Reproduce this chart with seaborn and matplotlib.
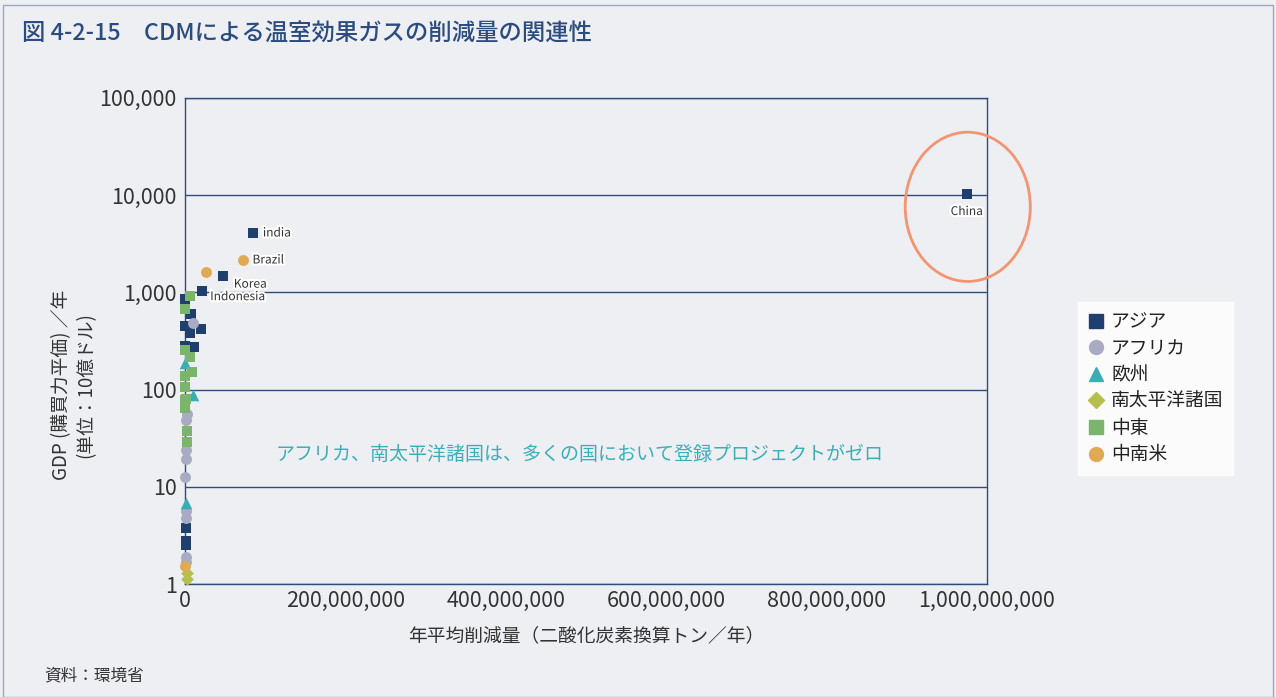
import matplotlib
matplotlib.use("Agg")
import matplotlib.pyplot as plt
import matplotlib.patheffects as pe
from matplotlib.patches import Ellipse, Rectangle
from matplotlib.lines import Line2D
from matplotlib.ticker import FixedLocator, FuncFormatter
import pandas as pd
import seaborn as sns

# annual CDM reduction (t-CO2/yr) vs GDP (PPP, billion USD)
asia_x = [975e6, 85e6, 47e6, 21e6, 0, 7e6, 0, 20e6, 6e6, 0, 11e6, 1e6, 1e6, 1e6]
asia_y = [10300, 4080, 1480, 1030, 855, 600, 451, 419, 380, 281, 275, 3.8, 2.8, 2.5]
africa_x = [10e6, 2e6, 1e6, 1e6, 1e6, 0, 1e6, 1e6, 1e6, 1e6]
africa_y = [484, 56, 49, 24, 19.3, 12.6, 5.6, 4.8, 1.9, 1.7]
europe_x = [0, 10e6, 1e6]
europe_y = [188, 88, 6.8]
pacific_x = [2e6, 2e6]
pacific_y = [1.3, 1.13]
mideast_x = [6e6, 0, 0, 6e6, 9e6, 0, 0, 1e6, 0, 0, 3e6, 2e6]
mideast_y = [918, 674, 255, 216, 152, 138, 106, 80, 78, 65, 37.5, 29]
latam_x = [72e6, 26e6, 0]
latam_y = [2155, 1622, 1.53]

regions = ["アジア", "アフリカ", "欧州", "南太平洋諸国", "中東", "中南米"]
colors = ["#1f3f6e", "#a9aac3", "#3aafb3", "#b6be4c", "#7bb46b", "#e0aa55"]
markers = ["s", "o", "^", "D", "s", "o"]

labels = {"China": (975e6, 10300), "india": (85e6, 4080), "Brazil": (72e6, 2155),
          "Korea": (47e6, 1480), "Indonesia": (21e6, 1030)}

xs = [asia_x, africa_x, europe_x, pacific_x, mideast_x, latam_x]
ys = [asia_y, africa_y, europe_y, pacific_y, mideast_y, latam_y]
df = pd.concat([pd.DataFrame({"x": a, "y": b, "region": r}) for a, b, r in zip(xs, ys, regions)],
               ignore_index=True)

bg = "#eeeff3"
navy = "#2e4d7c"
sns.set_style("white")
plt.rcParams["font.family"] = ["Noto Sans CJK JP", "DejaVu Sans"]

fig = plt.figure(figsize=(12.76, 6.97), dpi=100, facecolor=bg)
ax = fig.add_axes([0.145, 0.162, 0.6285, 0.6975])
ax.set_facecolor(bg)

sizes = {"s": 62, "o": 62, "^": 70, "D": 42}
for r, c, m in zip(regions, colors, markers):
    sns.scatterplot(data=df[df.region == r], x="x", y="y", color=c, marker=m,
                    s=sizes[m], linewidth=0, ax=ax, clip_on=False, zorder=3)

ax.set_yscale("log")
ax.set_ylim(1, 1e5)
ax.set_xlim(0, 1e9)
ax.yaxis.set_major_locator(FixedLocator([1, 10, 100, 1000, 1e4, 1e5]))
ax.yaxis.set_minor_locator(FixedLocator([]))
ax.yaxis.set_major_formatter(FuncFormatter(lambda v, p: f"{v:,.0f}"))
ax.xaxis.set_major_locator(FixedLocator([0, 2e8, 4e8, 6e8, 8e8, 1e9]))
ax.xaxis.set_major_formatter(FuncFormatter(lambda v, p: f"{v:,.0f}"))
ax.tick_params(axis="x", direction="in", length=8, color=navy, labelsize=15.5,
               labelcolor="#333333", pad=4)
ax.tick_params(axis="y", length=0, labelsize=15.5, labelcolor="#333333", pad=6)
ax.grid(axis="y", color=navy, lw=1)
ax.set_axisbelow(True)
for s in ax.spines.values():
    s.set_color(navy)
    s.set_linewidth(1)

ax.set_xlabel("年平均削減量（二酸化炭素換算トン／年）", fontsize=13.5, color="#333333", labelpad=10)
ax.set_ylabel("GDP (購買力平価) ／年\n(単位：10億ドル)", fontsize=13.5, color="#333333",
              linespacing=1.2)
ax.yaxis.set_label_coords(-0.11, 0.41)

halo = [pe.withStroke(linewidth=3, foreground="white")]
for name, (lx, ly) in labels.items():
    if name == "China":
        ax.annotate(name, (lx, ly), xytext=(0, -8), textcoords="offset points",
                    ha="center", va="top", fontsize=8.6, color="#333333", path_effects=halo)
    elif name == "Korea":
        ax.annotate(name, (lx, ly), xytext=(8, -6), textcoords="offset points",
                    ha="left", va="center", fontsize=8.6, color="#333333", path_effects=halo)
    elif name == "Indonesia":
        ax.annotate(name, (lx, ly), xytext=(6, -4), textcoords="offset points",
                    ha="left", va="center", fontsize=8.6, color="#333333", path_effects=halo)
    else:
        ax.annotate(name, (lx, ly), xytext=(7, 0), textcoords="offset points",
                    ha="left", va="center", fontsize=8.6, color="#333333", path_effects=halo)

ax.add_patch(Ellipse((0.976, 0.776), 0.156, 0.307, transform=ax.transAxes, fill=False,
                     edgecolor="#f49470", lw=2, clip_on=False, zorder=4))

ax.text(0.4925, 0.267, "アフリカ、南太平洋諸国は、多くの国において登録プロジェクトがゼロ",
        transform=ax.transAxes, ha="center", va="center", fontsize=13.7, color="#3aafb8")

handles = [Line2D([], [], ls="", marker=m, color=c, markersize=10 if m != "D" else 8)
           for m, c in zip(markers, colors)]
leg = fig.legend(handles, regions, loc="upper left", bbox_to_anchor=(0.845, 0.567),
                 fontsize=13.5, frameon=True, fancybox=False, handletextpad=0.35,
                 labelspacing=0.3, borderpad=0.5, handlelength=0.9, borderaxespad=0)
leg.get_frame().set_facecolor("white")
leg.get_frame().set_edgecolor("white")
for t in leg.get_texts():
    t.set_color("#222222")

fig.text(0.017, 0.953, "図 4-2-15　CDMによる温室効果ガスの削減量の関連性", fontsize=16.8,
         color="#2b4c7e", fontweight="medium", va="center")
fig.text(0.035, 0.03, "資料：環境省", fontsize=12, color="#333333", va="center")
fig.patches.append(Rectangle((0.002, 0.0), 0.996, 0.993, transform=fig.transFigure,
                             fill=False, edgecolor="#9aa8c0", lw=1))

fig.savefig("out.png", dpi=100, facecolor=bg)
